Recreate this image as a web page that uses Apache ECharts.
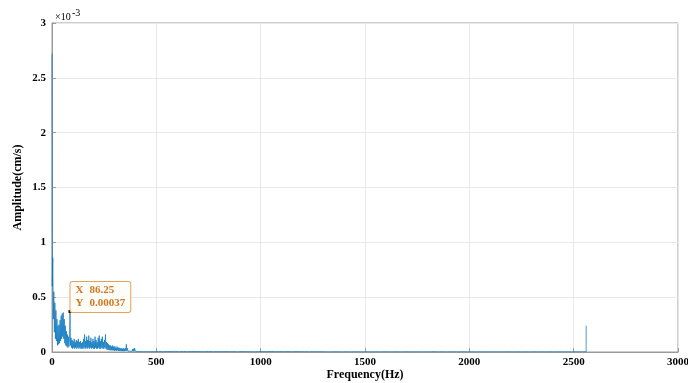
<!DOCTYPE html>
<html>
<head>
<meta charset="utf-8">
<script src="https://cdn.jsdelivr.net/npm/echarts@6/dist/echarts.min.js"></script>
<style>
  html, body { margin: 0; padding: 0; background: #fff; }
  #chart { width: 688px; height: 383px; }
</style>
</head>
<body>
<div id="chart"></div>
<script>
// amplitude values are in units of 1e-3 cm/s (axis shows x10^-3)
const xTicks = [0, 500, 1000, 1500, 2000, 2500, 3000];
const yTicks = [0, 0.5, 1, 1.5, 2, 2.5, 3];

// DC bin
const dcFreq = 0;
const dcAmp = 2.72;

// low band: 1.25 Hz .. 498.75 Hz, 2.5 Hz bins
const lowStart = 1.25, lowStep = 2.5;
const lowAmp = [
  0.60, 0.86, 0.30, 0.55, 0.18, 0.45, 0.12, 0.38, 0.10, 0.30,
  0.06, 0.24, 0.07, 0.25, 0.08, 0.29, 0.10, 0.33, 0.12, 0.35,
  0.14, 0.36, 0.12, 0.30, 0.08, 0.24, 0.06, 0.19, 0.05, 0.16,
  0.04, 0.14, 0.05, 0.11, 0.37, 0.06, 0.13, 0.04, 0.11, 0.03,
  0.10, 0.04, 0.12, 0.03, 0.09, 0.04, 0.11, 0.03, 0.10, 0.04,
  0.12, 0.03, 0.09, 0.04, 0.10, 0.03, 0.08, 0.03, 0.09, 0.03,
  0.12, 0.04, 0.16, 0.03, 0.10, 0.04, 0.14, 0.03, 0.11, 0.04,
  0.15, 0.03, 0.10, 0.04, 0.13, 0.03, 0.09, 0.04, 0.12, 0.03,
  0.10, 0.03, 0.14, 0.04, 0.11, 0.03, 0.09, 0.03, 0.13, 0.04,
  0.15, 0.03, 0.10, 0.03, 0.12, 0.04, 0.14, 0.03, 0.09, 0.03,
  0.11, 0.04, 0.16, 0.03, 0.09, 0.02, 0.08, 0.02, 0.07, 0.02,
  0.06, 0.015, 0.06, 0.015, 0.05, 0.015, 0.06, 0.015, 0.05, 0.01,
  0.05, 0.015, 0.04, 0.01, 0.05, 0.015, 0.04, 0.01, 0.04, 0.01,
  0.035, 0.01, 0.035, 0.008, 0.03, 0.008, 0.035, 0.008, 0.03, 0.008,
  0.035, 0.01, 0.07, 0.01, 0.035, 0.008, 0.025, 0.008, 0.025, 0.008,
  0.025, 0.006, 0.02, 0.006, 0.025, 0.006, 0.03, 0.006, 0.035, 0.008,
  0.025, 0.006, 0.018, 0.005, 0.016, 0.005, 0.014, 0.004, 0.014, 0.004,
  0.012, 0.004, 0.012, 0.003, 0.011, 0.003, 0.01, 0.003, 0.011, 0.003,
  0.01, 0.003, 0.009, 0.003, 0.009, 0.003, 0.009, 0.003, 0.008, 0.003,
  0.008, 0.003, 0.007, 0.003, 0.007, 0.003, 0.007, 0.003, 0.006, 0.003
];

// high band: 510 Hz .. 2550 Hz, 20 Hz bins
const highStart = 510, highStep = 20;
const highAmp = [
  0.006, 0.003, 0.005, 0.004, 0.006, 0.003, 0.005, 0.003, 0.005, 0.004,
  0.004, 0.003, 0.005, 0.003, 0.004, 0.003, 0.004, 0.003, 0.004, 0.002,
  0.004, 0.003, 0.003, 0.002, 0.004,
  0.004, 0.003, 0.005, 0.003, 0.004, 0.003, 0.004, 0.002, 0.004, 0.003,
  0.003, 0.002, 0.003, 0.002, 0.003,
  0.002, 0.001, 0.002, 0.002, 0.001, 0.002, 0.001, 0.002, 0.002, 0.001,
  0.002, 0.001, 0.002, 0.001, 0.002, 0.002, 0.001, 0.002, 0.001, 0.002,
  0.002, 0.001, 0.002, 0.001, 0.002, 0.001, 0.003, 0.001, 0.002, 0.001,
  0.002, 0.002, 0.001, 0.002, 0.001, 0.002, 0.001, 0.002, 0.001, 0.002,
  0.001, 0.002, 0.001, 0.002, 0.002, 0.001, 0.002, 0.001, 0.002, 0.001,
  0.002, 0.001, 0.002, 0.001, 0.002, 0.001, 0.002, 0.001, 0.002, 0.001,
  0.002, 0.001, 0.002
];

// Nyquist end with the 2560 Hz line
const nyqFreq = [2560, 2560];
const nyqAmp = [0.002, 0.24];

// data tip
const tipFreq = 86.25;
const tipAmp = 0.37;

const serif = 'Liberation Serif';
const axisGray = '#9a9a9a';
const tipOrange = '#D5751E';

const seriesData = [[dcFreq, dcAmp]];
lowAmp.forEach((a, i) => seriesData.push([lowStart + i * lowStep, a]));
highAmp.forEach((a, i) => seriesData.push([highStart + i * highStep, a]));
nyqAmp.forEach((a, i) => seriesData.push([nyqFreq[i], a]));

const tipText = (tipAmp * 1e-3).toFixed(5);

const myChart = echarts.init(document.getElementById('chart'));
const option = {
  animation: false,
  grid: {
    left: 52,
    right: 10,
    top: 23,
    bottom: 31,
    outerBoundsMode: 'none',
    containLabel: false,
    show: true,
    borderColor: axisGray,
    borderWidth: 1
  },
  xAxis: {
    type: 'value',
    min: xTicks[0],
    max: xTicks[xTicks.length - 1],
    interval: 500,
    name: 'Frequency(Hz)',
    nameLocation: 'middle',
    nameGap: 17,
    nameMoveOverlap: false,
    nameTextStyle: { fontFamily: serif, fontWeight: 'bold', fontSize: 12, color: '#000' },
    axisLine: { lineStyle: { color: axisGray } },
    axisTick: { inside: true, length: 4, lineStyle: { color: axisGray } },
    axisLabel: {
      fontFamily: serif, fontWeight: 'bold', fontSize: 11, color: '#000', margin: 5,
      formatter: v => String(v)
    },
    splitLine: { show: true, lineStyle: { color: '#e8e8e8' } }
  },
  yAxis: {
    type: 'value',
    min: yTicks[0],
    max: yTicks[yTicks.length - 1],
    interval: 0.5,
    name: 'Amplitude(cm/s)',
    nameLocation: 'middle',
    nameGap: 28,
    nameMoveOverlap: false,
    nameTextStyle: { fontFamily: serif, fontWeight: 'bold', fontSize: 12, color: '#000' },
    axisLine: { show: true, lineStyle: { color: axisGray } },
    axisTick: { show: true, inside: true, length: 4, lineStyle: { color: axisGray } },
    axisLabel: { fontFamily: serif, fontWeight: 'bold', fontSize: 11, color: '#000', margin: 6 },
    splitLine: { show: true, lineStyle: { color: '#e8e8e8' } }
  },
  graphic: [
    { type: 'text', left: 55, top: 12, style: { text: '\u00d710', fontFamily: serif, fontSize: 10, fill: '#000' } },
    { type: 'text', left: 72, top: 8, style: { text: '-3', fontFamily: serif, fontSize: 10, fill: '#000' } }
  ],
  series: [
    {
      type: 'line',
      data: seriesData,
      showSymbol: false,
      symbol: 'none',
      sampling: null,
      lineStyle: { color: '#0072BD', width: 0.7 },
      markPoint: {
        symbol: 'rect',
        symbolSize: 3,
        itemStyle: { color: '#000' },
        data: [
          {
            coord: [tipFreq, tipAmp],
            label: {
              show: true,
              position: [2, -28],
              formatter: '{k|X}{v|' + tipFreq + '}\n{k|Y}{v|' + tipText + '}',
              backgroundColor: '#fffdf8',
              borderColor: '#E3A15A',
              borderWidth: 1,
              borderRadius: 2,
              padding: [2, 5, 2, 5],
              rich: {
                k: { fontFamily: serif, fontWeight: 'bold', fontSize: 11, color: tipOrange, width: 14, lineHeight: 13 },
                v: { fontFamily: serif, fontWeight: 'bold', fontSize: 11, color: tipOrange, lineHeight: 13 }
              }
            }
          }
        ]
      }
    }
  ]
};
myChart.setOption(option);
</script>
</body>
</html>
